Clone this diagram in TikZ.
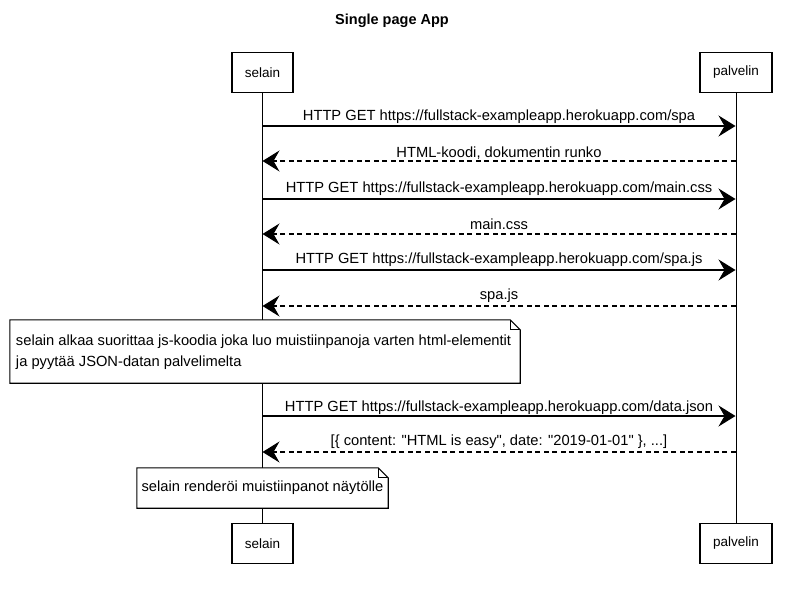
\documentclass[tikz,border=0pt]{standalone}
\usepackage{fontspec}
\setmainfont{Liberation Sans}[Ligatures=TeXOff]
\usetikzlibrary{arrows.meta,calc}
\begin{document}
\begin{tikzpicture}[x=1pt,y=-1pt,
  every node/.style={font=\fontsize{14.7}{17}\selectfont},
  actor/.style={draw=black,line width=1.2pt,fill=white,minimum height=40pt,inner sep=0pt,font=\fontsize{13.5}{15}\selectfont},
  life/.style={line width=0.9pt},
  req/.style={line width=1.2pt,-{Stealth[length=17pt,width=21pt,inset=6pt]}},
  resp/.style={line width=1.1pt,dash pattern=on 5pt off 3.5pt,-{Stealth[length=17pt,width=21pt,inset=6pt]}},
  lbl/.style={inner sep=0pt},
  notebox/.style={inner sep=0pt,fill=none,draw=none},
  notedraw/.style={draw=black,line width=1.1pt,fill=white}
]
\useasboundingbox[fill=white] (0,0) rectangle (785,589);
\node[font=\fontsize{14.5}{16}\selectfont\bfseries] (title) at (392,21) {Single page App};

\node[actor,minimum width=61pt] (s1) at (262.5,72.5) {selain};
\node[actor,minimum width=72pt] (p1) at (736,72.5) {palvelin};
\node[actor,minimum width=61pt] (s2) at (262.5,543.5) {selain};
\node[actor,minimum width=72pt] (p2) at (736,543.5) {palvelin};

\draw[life] (s1.south) -- (s2.north);
\draw[life] (p1.south) -- (p2.north);

% message coordinates
\foreach \i/\y in {1/126,2/161,3/199,4/234,5/270,6/306,8/416,9/452}{
  \coordinate (a\i) at (262.5,\y);
  \coordinate (b\i) at (735.5,\y);
}

\draw[req] (a1) -- (b1);
\node[lbl] (l1) at (499,117) {HTTP GET https://fullstack-exampleapp.herokuapp.com/spa};
\draw[resp] (b2) -- (a2);
\node[lbl] (l2) at (499,153) {HTML-koodi, dokumentin runko};
\draw[req] (a3) -- (b3);
\node[lbl] (l3) at (499,189) {HTTP GET https://fullstack-exampleapp.herokuapp.com/main.css};
\draw[resp] (b4) -- (a4);
\node[lbl] (l4) at (499,224) {main.css};
\draw[req] (a5) -- (b5);
\node[lbl] (l5) at (499,260) {HTTP GET https://fullstack-exampleapp.herokuapp.com/spa.js};
\draw[resp] (b6) -- (a6);
\node[lbl] (l6) at (499,296) {spa.js};

% note 1
\node[notebox,minimum width=510pt,minimum height=63pt] (n1) at (265,351.5) {};
\draw[notedraw] (n1.north west) -- ($(n1.north east)+(-10,0)$) -- ($(n1.north east)+(0,10)$) -- (n1.south east) -- (n1.south west) -- cycle;
\draw[line width=0.8pt] ($(n1.north east)+(-10,0)$) -- ($(n1.north east)+(-10,10)$) -- ($(n1.north east)+(0,10)$);
\node[lbl,anchor=west,align=left,font=\fontsize{14.7}{21}\selectfont] (t1) at ($(n1.west)+(6,1)$) {selain alkaa suorittaa js-koodia joka luo muistiinpanoja varten html-elementit\\ja pyytää JSON-datan palvelimelta};

\draw[req] (a8) -- (b8);
\node[lbl] (l8) at (499,408) {HTTP GET https://fullstack-exampleapp.herokuapp.com/data.json};
\draw[resp] (b9) -- (a9);
\node[lbl] (l9) at (499,442) {[\{ content: "HTML is easy", date: "2019-01-01" \}, ...]};

% note 2
\node[notebox,minimum width=251pt,minimum height=40pt] (n2) at (262.5,488) {};
\draw[notedraw] (n2.north west) -- ($(n2.north east)+(-10,0)$) -- ($(n2.north east)+(0,10)$) -- (n2.south east) -- (n2.south west) -- cycle;
\draw[line width=0.8pt] ($(n2.north east)+(-10,0)$) -- ($(n2.north east)+(-10,10)$) -- ($(n2.north east)+(0,10)$);
\node[lbl] (t2) at (n2.center) {selain renderöi muistiinpanot näytölle};
\end{tikzpicture}
\end{document}
